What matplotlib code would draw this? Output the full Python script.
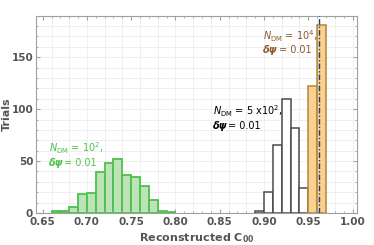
import numpy as np
import matplotlib.pyplot as plt
from matplotlib.ticker import MultipleLocator

plt.rcParams["mathtext.fontset"] = "dejavusans"

# histogram data (bin width 0.01)
bin_width = 0.01
green_left = [0.66, 0.67, 0.68, 0.69, 0.70, 0.71, 0.72, 0.73, 0.74, 0.75, 0.76, 0.77, 0.78, 0.79]
green_counts = [2, 2, 6, 18, 19, 39, 48, 52, 37, 35, 26, 13, 2, 1]

black_left = [0.89, 0.90, 0.91, 0.92, 0.93, 0.94]
black_counts = [2, 20, 65, 110, 82, 24]

orange_left = [0.95, 0.96]
orange_counts = [122, 181]

true_value = 0.962

fig = plt.figure(figsize=(3.74, 2.45), dpi=100)
ax = fig.add_axes([0.0963, 0.1306, 0.8582, 0.8054])

# grid lines
for gx in np.arange(0.66, 1.001, 0.02):
    ax.axvline(gx, color="#ededed", lw=0.6, zorder=0)
for gy in np.arange(10, 190, 10):
    ax.axhline(gy, color="#ededed", lw=0.6, zorder=0)

ax.bar(green_left, green_counts, width=bin_width, align="edge",
       facecolor="#bfe3b8", edgecolor="#4cc24c", lw=1.3, zorder=2)
ax.bar(black_left, black_counts, width=bin_width, align="edge",
       facecolor="white", edgecolor="#4a4a4a", lw=1.1, zorder=2)
ax.bar(orange_left, orange_counts, width=bin_width, align="edge",
       facecolor="#f9d290", edgecolor="#b5823f", lw=1.1, zorder=2)

ax.axvline(true_value, color="#1d3f7a", lw=1.0, ls=(0, (4, 1.5, 1, 1.5)), zorder=3)

ax.set_xlim(0.6425, 1.005)
ax.set_ylim(0, 190)
ax.set_xticks([0.65, 0.70, 0.75, 0.80, 0.85, 0.90, 0.95, 1.00])
ax.set_xticklabels(["0.65", "0.70", "0.75", "0.80", "0.85", "0.90", "0.95", "1.00"])
ax.set_yticks([0, 50, 100, 150])
ax.xaxis.set_minor_locator(MultipleLocator(0.01))
ax.yaxis.set_minor_locator(MultipleLocator(10))

frame_col = "#a0a0a0"
for s in ax.spines.values():
    s.set_color(frame_col)
    s.set_linewidth(0.8)
ax.tick_params(which="both", direction="in", color=frame_col, top=True, right=True,
               labelcolor="#555555", labelsize=7.5, pad=2)
ax.tick_params(axis="x", pad=3)
ax.tick_params(which="major", length=3)
ax.tick_params(which="minor", length=1.5)
for lab in ax.get_xticklabels() + ax.get_yticklabels():
    lab.set_fontweight("bold")

ax.set_ylabel("Trials", fontsize=8, fontweight="bold", color="#555555")
ax.yaxis.set_label_coords(-0.075, 0.5)
ax.set_xlabel(r"Reconstructed C$_{\mathbf{00}}$", fontsize=8, fontweight="bold",
              color="#555555", labelpad=3)


def label(x, y1, y2, n_text, color):
    ax.text(x, y1, n_text, fontsize=7, color=color, va="center", ha="left", zorder=5)
    t = ax.text(x, y2, "δψ", fontsize=7, color=color, va="center", ha="left",
                fontweight="bold", style="italic", zorder=5)
    fig.canvas.draw()
    bb = t.get_window_extent()
    xd = ax.transData.inverted().transform((bb.x1 + 1, 0))[0]
    ax.text(xd, y2, "= 0.01", fontsize=7, color=color, va="center", ha="left", zorder=5)


label(0.657, 62, 48, r"$N_{\mathrm{DM}}$ = 10$^2$,", "#4cc24c")
label(0.842, 98, 84, r"$N_{\mathrm{DM}}$ = 5 x10$^2$,", "black")
label(0.899, 170, 157, r"$N_{\mathrm{DM}}$ = 10$^4$,", "#8a5a2b")

fig.savefig("out.png", dpi=100)
